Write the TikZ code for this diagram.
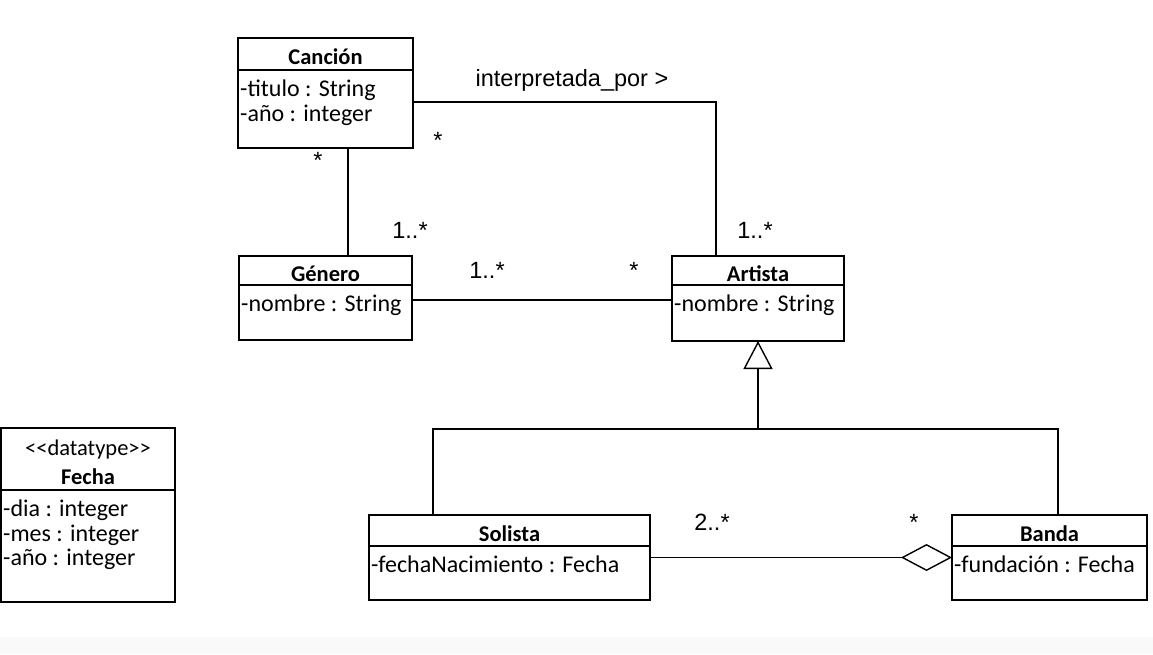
\documentclass[tikz,border=0pt]{standalone}
\usepackage{fontspec}
\setmainfont{Carlito}
\newfontfamily\arialf{Liberation Sans}
\usetikzlibrary{arrows.meta}
\newcommand\umlcls[8]{%
  % #1 name, #2 x1, #3 y1, #4 x2, #5 y2, #6 ydiv, #7 title, #8 attrs
  \pgfmathsetmacro\cw{#4-#2}\pgfmathsetmacro\ch{#5-#3}%
  \node[clsbox, minimum width=\cw pt, minimum height=\ch pt] (#1) at ({(#2+#4)/2},{(#3+#5)/2}) {};
  \node[clstitle] (#1-t) at ({(#2+#4)/2},{(#3+#6)/2}) {#7};
  \draw[clsline] (#2,#6) -- (#4,#6);
  \node[clsattr] (#1-a) at (#2,#6) {#8};
}
\begin{document}
\begin{tikzpicture}[x=1pt,y=-1pt,
  clsbox/.style={draw, line width=1.6pt, inner sep=0pt, outer sep=0pt},
  clsline/.style={line width=1.4pt},
  clstitle/.style={font=\fontsize{22.5}{29}\selectfont\bfseries, inner sep=0pt, align=center, yshift=-3pt},
  clsattr/.style={font=\fontsize{24}{24.5}\selectfont, anchor=north west, inner sep=2pt, xshift=0pt, yshift=-8pt, align=left},
  conn/.style={line width=1.4pt},
  lbl/.style={font=\arialf\fontsize{23.5}{26}\selectfont, inner sep=0pt}]
\useasboundingbox (0,0) rectangle (1153,654);
\fill[gray!5] (0,637) rectangle (1153,654);
\umlcls{cancion}{238}{38}{413}{148}{70}{Canción}{-titulo : String\\-año : integer}
\umlcls{genero}{239}{256}{412}{340}{285}{Género}{-nombre : String}
\umlcls{artista}{672}{256}{844}{341}{285}{Artista}{-nombre : String}
\umlcls{fecha}{1}{428}{175}{602}{490}{\mdseries<{}<datatype>{}>\\Fecha}{-dia : integer\\-mes : integer\\-año : integer}
\umlcls{solista}{369}{515}{650}{600}{546}{Solista}{-fechaNacimiento : Fecha}
\umlcls{banda}{952}{515}{1147}{600}{546}{Banda}{-fundación : Fecha}
% associations
\draw[conn] ([xshift=22.5pt]cancion.south) -- ([xshift=22.5pt]cancion.south |- genero.north);
\draw[conn] ([yshift=-9pt]cancion.east) -| ([xshift=-42pt]artista.north);
\draw[conn] ([yshift=-2pt]genero.east) -- ([yshift=-2pt]genero.east -| artista.west);
% generalization
\coordinate (gj) at (758,429);
\draw[conn] ([xshift=-76.5pt]solista.north) |- (gj) -| ([xshift=8.5pt]banda.north);
\draw[conn, -{Triangle[open, length=28pt, width=29pt, line width=1.4pt]}] (gj) -- (artista.south);
% aggregation
\draw[conn, {Diamond[open, length=51pt, width=27pt, line width=1.4pt]}-] (banda.west) -- (solista.east);
% labels
\node[lbl] (l1) at (572,80) {interpretada\_por >};
\node[lbl] (l2) at (438,140) {*};
\node[lbl] (l3) at (318,160) {*};
\node[lbl] (l4) at (410,230) {1..*};
\node[lbl] (l5) at (755,230) {1..*};
\node[lbl] (l6) at (487,270) {1..*};
\node[lbl] (l7) at (634,270) {*};
\node[lbl] (l8) at (712,522) {2..*};
\node[lbl] (l9) at (914,522) {*};
\end{tikzpicture}
\end{document}
